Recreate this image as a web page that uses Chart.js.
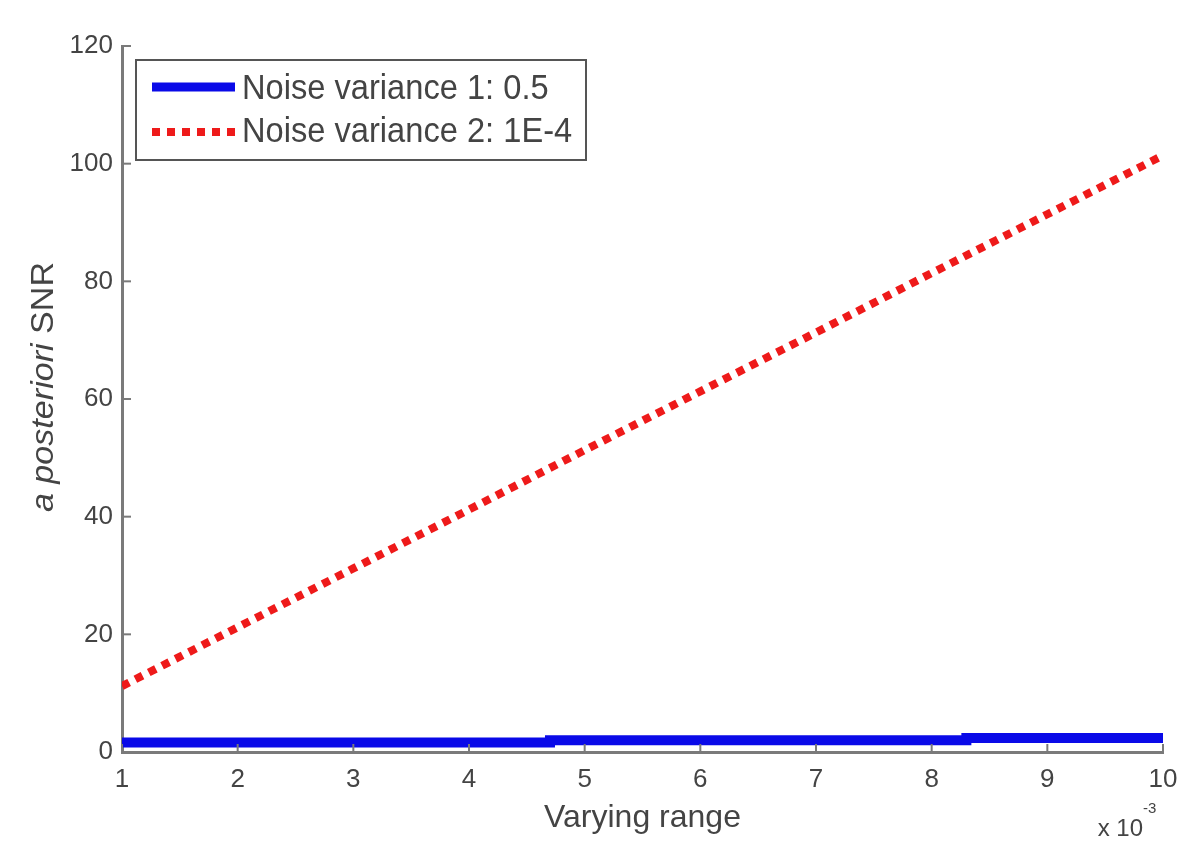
<!DOCTYPE html>
<html>
<head>
<meta charset="utf-8">
<script src="https://cdn.jsdelivr.net/npm/chart.js@4"></script>
<style>
  html, body { margin: 0; padding: 0; background: #fff; }
  #wrap { width: 1200px; height: 868px; }
</style>
</head>
<body>
<div id="wrap"><canvas id="snrChart" width="1200" height="868"></canvas></div>
<script>
// values (x axis in units of 1e-3)
const xTicks = [1, 2, 3, 4, 5, 6, 7, 8, 9, 10];
const yTicks = [0, 20, 40, 60, 80, 100, 120];

const noise1X = [1, 4.7, 8.3, 10];
const noise1Y = [1.6, 2.0, 2.4, 2.4];

const noise2X = [1, 2, 3, 4, 5, 6, 7, 8, 9, 10];
const noise2Y = [11.2, 21.2, 31.2, 41.2, 51.3, 61.3, 71.3, 81.4, 91.4, 101.4];

const labels = ['Noise variance 1: 0.5', 'Noise variance 2: 1E-4'];
const blue = '#0a0ae8';
const red = '#ee1a1a';
const axisGray = '#7a7a7a';
const textGray = '#444';
const fam = '"Liberation Sans", Arial, sans-serif';

const toPoints = (xs, ys) => xs.map((x, i) => ({ x: x, y: ys[i] }));

// inward tick marks, legend box, y title and exponent label
const matlabBits = {
    id: 'matlabBits',
    afterDraw(chart) {
        const c = chart.ctx;
        const xs = chart.scales.x, ys = chart.scales.y;
        const area = chart.chartArea;
        c.save();
        c.strokeStyle = axisGray;
        c.lineWidth = 2;
        xTicks.forEach(v => {
            const px = xs.getPixelForValue(v);
            c.beginPath(); c.moveTo(px, area.bottom); c.lineTo(px, area.bottom - 8); c.stroke();
        });
        yTicks.forEach(v => {
            const py = ys.getPixelForValue(v);
            c.beginPath(); c.moveTo(area.left, py); c.lineTo(area.left + 9, py); c.stroke();
        });

        // legend
        const lx = area.left + 14, ly = area.top + 14, lw = 450, lh = 100;
        c.fillStyle = '#fff';
        c.fillRect(lx, ly, lw, lh);
        c.strokeStyle = '#555';
        c.lineWidth = 2;
        c.strokeRect(lx, ly, lw, lh);

        c.lineWidth = 9;
        c.strokeStyle = blue;
        c.beginPath(); c.moveTo(lx + 16, ly + 27); c.lineTo(lx + 99, ly + 27); c.stroke();
        c.lineWidth = 8;
        c.strokeStyle = red;
        c.setLineDash([8, 7]);
        c.beginPath(); c.moveTo(lx + 16, ly + 72); c.lineTo(lx + 99, ly + 72); c.stroke();
        c.setLineDash([]);

        c.fillStyle = textGray;
        c.font = '32px ' + fam;
        c.textBaseline = 'middle';
        c.textAlign = 'left';
        [[labels[0], ly + 29], [labels[1], ly + 72]].forEach(([t, y]) => {
            c.save();
            c.translate(lx + 106, y);
            c.scale(1.02, 1.08);
            c.fillText(t, 0, 0);
            c.restore();
        });

        // y axis title, partly italic, stretched along its length
        c.save();
        c.translate(44, 387);
        c.rotate(-Math.PI / 2);
        c.scale(1.1, 1);
        c.textBaseline = 'middle';
        c.textAlign = 'left';
        const italic = 'italic 31px ' + fam;
        const plain = '31px ' + fam;
        c.font = italic;
        const w1 = c.measureText('a posteriori ').width;
        c.font = plain;
        const w2 = c.measureText('SNR').width;
        const start = -(w1 + w2) / 2;
        c.font = italic;
        c.fillText('a posteriori ', start, 0);
        c.font = plain;
        c.fillText('SNR', start + w1, 0);
        c.restore();

        // exponent
        c.textBaseline = 'alphabetic';
        c.font = '24px ' + fam;
        c.textAlign = 'right';
        c.fillText('x 10', area.right - 20, 836);
        c.font = '15px ' + fam;
        c.textAlign = 'left';
        c.fillText('-3', area.right - 20, 813);
        c.restore();
    }
};

new Chart(document.getElementById('snrChart'), {
    type: 'scatter',
    data: {
        datasets: [{
            label: labels[0],
            data: toPoints(noise1X, noise1Y),
            showLine: true,
            stepped: true,
            borderColor: blue,
            backgroundColor: blue,
            borderWidth: 10,
            pointRadius: 0
        }, {
            label: labels[1],
            data: toPoints(noise2X, noise2Y),
            showLine: true,
            borderColor: red,
            backgroundColor: red,
            borderWidth: 8,
            borderDash: [8, 7],
            pointRadius: 0
        }]
    },
    options: {
        responsive: false,
        animation: false,
        layout: { padding: { top: 46, right: 37, left: 0, bottom: 27 } },
        plugins: {
            legend: { display: false },
            tooltip: { enabled: false }
        },
        scales: {
            x: {
                type: 'linear',
                min: 1,
                max: 10,
                afterBuildTicks: (s) => { s.ticks = xTicks.map(v => ({ value: v })); },
                afterFit: (s) => { s.height = 89; },
                ticks: { color: textGray, font: { size: 26, family: fam }, padding: 12 },
                grid: { display: false, drawTicks: false },
                border: { color: axisGray, width: 3 },
                title: {
                    display: true,
                    text: 'Varying range',
                    color: textGray,
                    font: { size: 32, family: fam },
                    padding: { top: 2 }
                }
            },
            y: {
                min: 0,
                max: 120,
                afterBuildTicks: (s) => { s.ticks = yTicks.map(v => ({ value: v })); },
                afterFit: (s) => { s.width = 122; },
                ticks: { color: textGray, font: { size: 26, family: fam }, padding: 9 },
                grid: { display: false, drawTicks: false },
                border: { color: axisGray, width: 3 }
            }
        }
    },
    plugins: [matlabBits]
});
</script>
</body>
</html>
